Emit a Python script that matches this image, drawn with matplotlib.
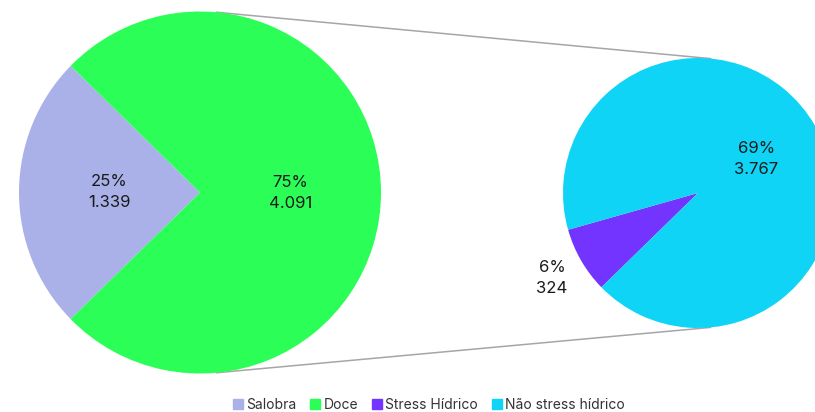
import numpy as np
import matplotlib
matplotlib.use('Agg')
import matplotlib.pyplot as plt
from matplotlib.patches import Patch

plt.rcParams['font.family'] = ['Inter', 'DejaVu Sans']

# main pie
main_labels = ['Salobra', 'Doce']
main_values = [1339, 4091]
main_colors = ['#A9B1E8', '#2BFF57']

# breakdown of "Doce"
sub_labels = ['Stress Hídrico', 'Não stress hídrico']
sub_values = [324, 3767]
sub_colors = ['#7434FF', '#10D4F6']

total = sum(main_values)

def fmt(v):
    return '{:,}'.format(v).replace(',', '.')

fig = plt.figure(figsize=(8.15, 4.12), dpi=100)
ax = fig.add_axes([0, 0, 1, 1])

c1, r1 = (200, 219.5), 181
c2, r2 = (698, 219), 135

w1, _ = ax.pie(main_values, colors=main_colors, startangle=135.6,
               center=c1, radius=r1, wedgeprops=dict(linewidth=0))
w2, _ = ax.pie(sub_values, colors=sub_colors, startangle=195.8,
               center=c2, radius=r2, wedgeprops=dict(linewidth=0))

# connector lines = outer tangents of the two pies
d = c2[0] - c1[0]
th = np.arccos((r1 - r2) / d)
for s in (1, -1):
    p1 = (c1[0] + r1 * np.cos(th), c1[1] + s * r1 * np.sin(th))
    p2 = (c2[0] + r2 * np.cos(th), c2[1] + s * r2 * np.sin(th))
    ax.plot([p1[0], p2[0]], [p1[1], p2[1]], color='#A6A6A6', lw=1.1, zorder=0)

def put_label(w, v, c, r, dist):
    mid = np.deg2rad((w.theta1 + w.theta2) / 2)
    x = c[0] + dist * r * np.cos(mid)
    y = c[1] + dist * r * np.sin(mid)
    ax.text(x, y, '{:.0f}%\n{}'.format(v / total * 100, fmt(v)),
            ha='center', va='center', fontsize=12, color='#1a1a1a',
            linespacing=1.5)

for w, v in zip(w1, main_values):
    put_label(w, v, c1, r1, 0.5)
put_label(w2[0], sub_values[0], c2, r2, 1.25)
put_label(w2[1], sub_values[1], c2, r2, 0.5)

ax.set_xlim(0, 815)
ax.set_ylim(0, 412)
ax.set_aspect('equal')
ax.axis('off')

handles = [Patch(color=c) for c in main_colors + sub_colors]
fig.legend(handles, main_labels + sub_labels, loc='center',
           bbox_to_anchor=(429 / 815, 1 - 405 / 412), ncol=4, frameon=False,
           fontsize=10, handlelength=0.7, handleheight=0.7,
           handletextpad=0.25, columnspacing=1.0, labelcolor='#333333')

fig.savefig('out.png', dpi=100)
